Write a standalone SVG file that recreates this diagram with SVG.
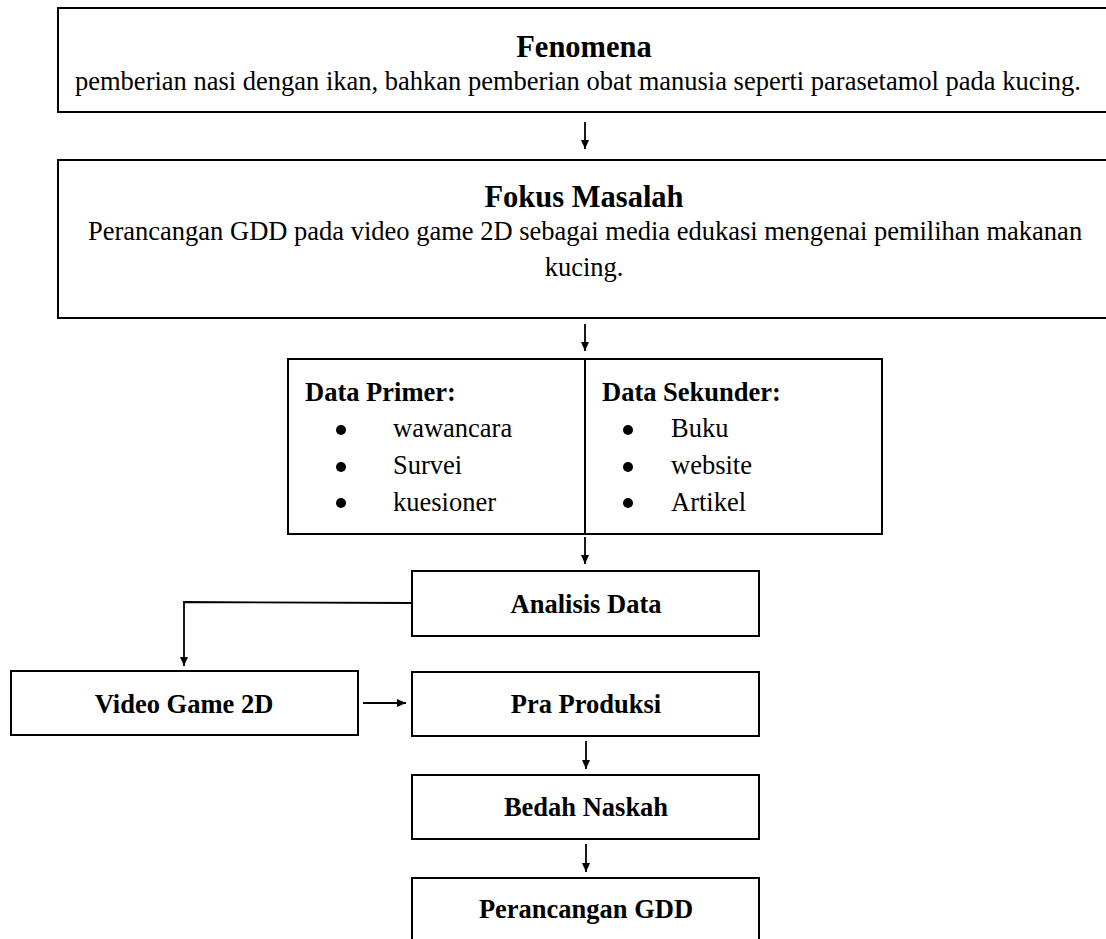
<svg xmlns="http://www.w3.org/2000/svg" width="1106" height="939" viewBox="0 0 1106 939">
<style>
.box{fill:#fff;stroke:#000;stroke-width:2}
.t{font-family:"Liberation Serif","Times New Roman",serif;fill:#000;font-size:26.5px}
.b{font-weight:bold}
.h{font-weight:bold;font-size:30.5px}
.c{text-anchor:middle}
.ln{fill:none;stroke:#000;stroke-width:1.8}
.dot{fill:#000}
</style>
<defs>
<marker id="ah" markerUnits="userSpaceOnUse" markerWidth="10" markerHeight="10" viewBox="0 0 10 10" refX="9" refY="5" orient="auto">
<path d="M0,1 L9,5 L0,9 Z" fill="#000"/>
</marker>
</defs>
<rect width="1106" height="939" fill="#fff"/>
<g id="fenomena">
<rect class="box" x="58" y="8" width="1100" height="104"/>
<text class="t h c" x="584" y="57">Fenomena</text>
<text class="t" x="75" y="90">pemberian nasi dengan ikan, bahkan pemberian obat manusia seperti parasetamol pada kucing.</text>
</g>
<g id="fokus">
<rect class="box" x="58" y="160" width="1100" height="158"/>
<text class="t h c" x="584" y="207">Fokus Masalah</text>
<text class="t" x="88" y="240">Perancangan GDD pada video game 2D sebagai media edukasi mengenai pemilihan makanan</text>
<text class="t c" x="584" y="276">kucing.</text>
</g>
<g id="data">
<rect class="box" x="288" y="359" width="594" height="175"/>
<line x1="585" y1="359" x2="585" y2="534" stroke="#000" stroke-width="2"/>
<text class="t b" x="305" y="401">Data Primer:</text>
<circle class="dot" cx="341" cy="430" r="5"/>
<circle class="dot" cx="341" cy="467" r="5"/>
<circle class="dot" cx="341" cy="503" r="5"/>
<text class="t" x="393" y="437">wawancara</text>
<text class="t" x="393" y="474">Survei</text>
<text class="t" x="393" y="511">kuesioner</text>
<text class="t b" x="602" y="401">Data Sekunder:</text>
<circle class="dot" cx="628" cy="430" r="5"/>
<circle class="dot" cx="628" cy="467" r="5"/>
<circle class="dot" cx="628" cy="503" r="5"/>
<text class="t" x="671" y="437">Buku</text>
<text class="t" x="671" y="474">website</text>
<text class="t" x="671" y="511">Artikel</text>
</g>
<g id="analisis">
<rect class="box" x="412" y="571" width="347" height="65"/>
<text class="t b c" x="586" y="613">Analisis Data</text>
</g>
<g id="videogame">
<rect class="box" x="11" y="671" width="347" height="64"/>
<text class="t b c" x="184" y="713">Video Game 2D</text>
</g>
<g id="praproduksi">
<rect class="box" x="412" y="672" width="347" height="64"/>
<text class="t b c" x="586" y="713">Pra Produksi</text>
</g>
<g id="bedah">
<rect class="box" x="412" y="775" width="347" height="64"/>
<text class="t b c" x="586" y="816">Bedah Naskah</text>
</g>
<g id="perancangan">
<rect class="box" x="412" y="878" width="347" height="80"/>
<text class="t b c" x="586" y="918">Perancangan GDD</text>
</g>
<g id="connectors">
<line class="ln" x1="585" y1="122" x2="585" y2="149" marker-end="url(#ah)"/>
<line class="ln" x1="585" y1="324" x2="585" y2="351" marker-end="url(#ah)"/>
<line class="ln" x1="585" y1="537" x2="585" y2="564" marker-end="url(#ah)"/>
<polyline class="ln" points="412,603 184,602 184,666" marker-end="url(#ah)"/>
<line class="ln" x1="363" y1="703" x2="406" y2="703" marker-end="url(#ah)"/>
<line class="ln" x1="586" y1="741" x2="586" y2="769" marker-end="url(#ah)"/>
<line class="ln" x1="586" y1="844" x2="586" y2="872" marker-end="url(#ah)"/>
</g>
</svg>
